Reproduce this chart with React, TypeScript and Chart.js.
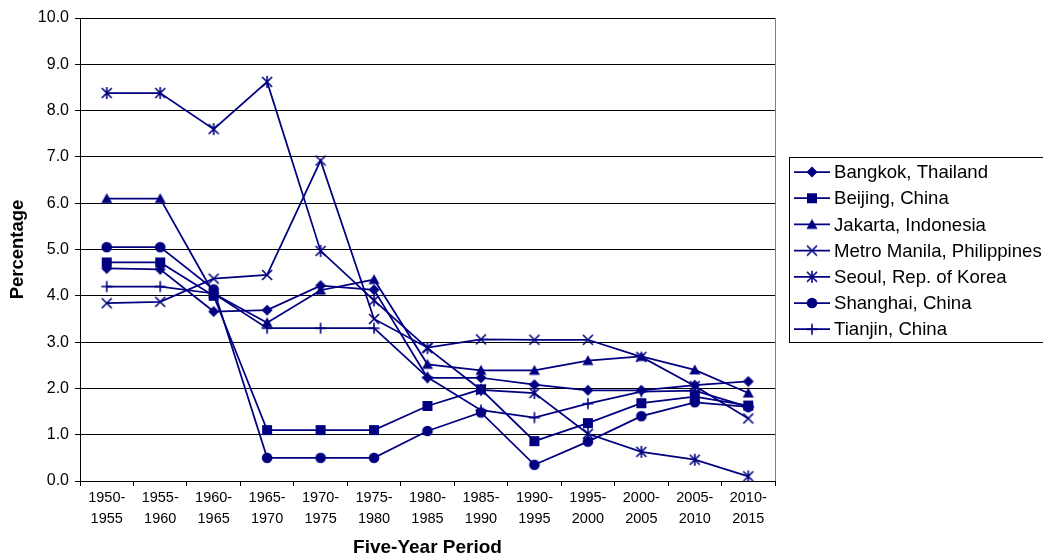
import React, { useEffect, useRef } from "react";
import { Chart, registerables } from "chart.js";

Chart.register(...registerables);

const periods: string[][] = [
  ["1950-", "1955"], ["1955-", "1960"], ["1960-", "1965"], ["1965-", "1970"],
  ["1970-", "1975"], ["1975-", "1980"], ["1980-", "1985"], ["1985-", "1990"],
  ["1990-", "1995"], ["1995-", "2000"], ["2000-", "2005"], ["2005-", "2010"],
  ["2010-", "2015"],
];

const bangkok = [4.59, 4.57, 3.66, 3.69, 4.22, 4.13, 2.23, 2.23, 2.08, 1.96, 1.96, 2.07, 2.15];
const beijing = [4.72, 4.72, 4.0, 1.1, 1.1, 1.1, 1.62, 1.98, 0.86, 1.25, 1.68, 1.82, 1.63];
const jakarta = [6.1, 6.1, 4.05, 3.42, 4.12, 4.35, 2.52, 2.39, 2.39, 2.6, 2.69, 2.4, 1.9];
const manila = [3.84, 3.87, 4.37, 4.45, 6.92, 3.5, 2.88, 3.06, 3.05, 3.05, 2.68, 2.05, 1.35];
const seoul = [8.38, 8.38, 7.6, 8.62, 4.97, 3.9, 2.87, 1.97, 1.9, 1.02, 0.63, 0.46, 0.1];
const shanghai = [5.05, 5.05, 4.14, 0.5, 0.5, 0.5, 1.08, 1.48, 0.35, 0.85, 1.4, 1.7, 1.6];
const tianjin = [4.2, 4.2, 4.05, 3.3, 3.3, 3.3, 2.24, 1.53, 1.37, 1.67, 1.93, 1.95, 1.6];

const seriesNames = [
  "Bangkok, Thailand",
  "Beijing, China",
  "Jakarta, Indonesia",
  "Metro Manila, Philippines",
  "Seoul, Rep. of Korea",
  "Shanghai, China",
  "Tianjin, China",
];
const seriesValues = [bangkok, beijing, jakarta, manila, seoul, shanghai, tianjin];
const markerKinds = ["diamond", "square", "triangle", "x", "asterisk", "circle", "plus"];

const yTicks = [0, 1, 2, 3, 4, 5, 6, 7, 8, 9, 10];

const NAVY = "#000080";
const FONT = "'Liberation Sans', Arial, sans-serif";

function makeMarker(kind: string): HTMLCanvasElement {
  const s = 14;
  const c = s / 2;
  const cv = document.createElement("canvas");
  cv.width = s;
  cv.height = s;
  const ctx = cv.getContext("2d")!;
  ctx.fillStyle = NAVY;
  ctx.strokeStyle = NAVY;
  ctx.lineWidth = 1.6;
  ctx.beginPath();
  switch (kind) {
    case "diamond":
      ctx.moveTo(c, c - 5.5);
      ctx.lineTo(c + 5.5, c);
      ctx.lineTo(c, c + 5.5);
      ctx.lineTo(c - 5.5, c);
      ctx.closePath();
      ctx.fill();
      break;
    case "square":
      ctx.fillRect(c - 5, c - 5, 10, 10);
      break;
    case "triangle":
      ctx.moveTo(c, c - 5.5);
      ctx.lineTo(c + 5.5, c + 4.5);
      ctx.lineTo(c - 5.5, c + 4.5);
      ctx.closePath();
      ctx.fill();
      break;
    case "circle":
      ctx.arc(c, c, 5.3, 0, Math.PI * 2);
      ctx.fill();
      break;
    case "x":
      ctx.moveTo(c - 5, c - 5);
      ctx.lineTo(c + 5, c + 5);
      ctx.moveTo(c + 5, c - 5);
      ctx.lineTo(c - 5, c + 5);
      ctx.stroke();
      break;
    case "asterisk":
      ctx.moveTo(c - 5, c - 5);
      ctx.lineTo(c + 5, c + 5);
      ctx.moveTo(c + 5, c - 5);
      ctx.lineTo(c - 5, c + 5);
      ctx.moveTo(c, c - 6);
      ctx.lineTo(c, c + 6);
      ctx.stroke();
      break;
    case "plus":
      ctx.moveTo(c - 5.5, c);
      ctx.lineTo(c + 5.5, c);
      ctx.moveTo(c, c - 5.5);
      ctx.lineTo(c, c + 5.5);
      ctx.stroke();
      break;
  }
  return cv;
}

export default function App() {
  const ref = useRef<HTMLCanvasElement | null>(null);

  useEffect(() => {
    if (!ref.current) return;
    const markers = markerKinds.map(makeMarker);

    const legendPlugin = {
      id: "customLegend",
      afterDraw(chart: any) {
        const ctx = chart.ctx as CanvasRenderingContext2D;
        const area = chart.chartArea;
        ctx.save();
        ctx.strokeStyle = "#808080";
        ctx.lineWidth = 1;
        ctx.beginPath();
        ctx.moveTo(Math.round(area.right) + 0.5, area.top);
        ctx.lineTo(Math.round(area.right) + 0.5, area.bottom);
        ctx.stroke();

        ctx.strokeStyle = "#000";
        ctx.lineWidth = 1;
        ctx.strokeRect(789.5, 157.5, 320, 185);

        ctx.font = `18.6px ${FONT}`;
        ctx.textBaseline = "middle";
        ctx.textAlign = "left";
        chart.data.datasets.forEach((ds: any, i: number) => {
          const y = 172 + i * 26.2;
          ctx.strokeStyle = NAVY;
          ctx.lineWidth = 1.75;
          ctx.beginPath();
          ctx.moveTo(794, y);
          ctx.lineTo(830, y);
          ctx.stroke();
          const m = markers[i];
          ctx.drawImage(m, 812 - m.width / 2, y - m.height / 2);
          ctx.fillStyle = "#000";
          ctx.fillText(ds.label, 834, y + 1);
        });
        ctx.restore();
      },
    };

    const chart = new Chart(ref.current, {
      type: "line",
      data: {
        labels: periods,
        datasets: seriesNames.map((name, i) => ({
          label: name,
          data: seriesValues[i],
          borderColor: NAVY,
          backgroundColor: NAVY,
          borderWidth: 1.75,
          tension: 0,
          pointStyle: markers[i] as any,
          pointRadius: 5,
          fill: false,
        })),
      },
      options: {
        animation: false,
        responsive: true,
        maintainAspectRatio: false,
        layout: { padding: { top: 18, right: 268, left: 0, bottom: 0 } },
        plugins: {
          legend: { display: false },
          tooltip: { enabled: false },
        },
        scales: {
          x: {
            type: "category",
            offset: true,
            grid: {
              display: true,
              drawOnChartArea: false,
              drawTicks: true,
              tickLength: 5,
              offset: true,
              color: "#000",
            },
            border: { display: true, color: "#000", width: 1 },
            ticks: {
              autoSkip: false,
              maxRotation: 0,
              minRotation: 0,
              color: "#000",
              padding: 1,
              font: { family: FONT, size: 14.5, lineHeight: 1.45 },
            },
            title: {
              display: true,
              text: "Five-Year Period",
              color: "#000",
              font: { family: FONT, size: 19, weight: "bold" },
              padding: { top: 0, bottom: 1 },
            },
            afterFit(scale: any) {
              scale.height = 79;
            },
          },
          y: {
            min: 0,
            max: 10,
            afterBuildTicks(scale: any) {
              scale.ticks = yTicks.map((v) => ({ value: v }));
            },
            grid: {
              color: "#000",
              lineWidth: 1,
              tickLength: 5,
              drawTicks: true,
            },
            border: { display: true, color: "#000", width: 1 },
            ticks: {
              color: "#000",
              padding: 6,
              font: { family: FONT, size: 16 },
              callback: (v: any) => Number(v).toFixed(1),
            },
            title: {
              display: true,
              text: "Percentage",
              color: "#000",
              font: { family: FONT, size: 18.5, weight: "bold" },
              padding: { top: 7, bottom: 0 },
            },
            afterFit(scale: any) {
              scale.width = 80;
            },
          },
        },
      },
      plugins: [legendPlugin],
    });
    return () => chart.destroy();
  }, []);

  return (
    <div style={{ position: "fixed", left: 0, top: 0, width: 1043, height: 560, background: "#fff" }}>
      <canvas ref={ref} />
    </div>
  );
}
